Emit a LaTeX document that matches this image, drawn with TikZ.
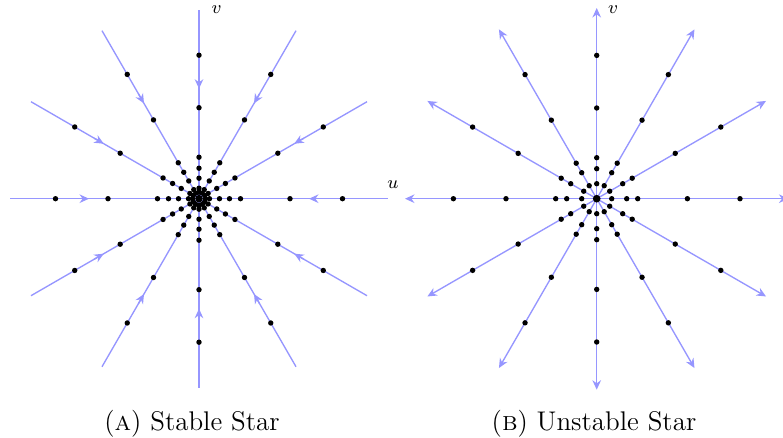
\documentclass[tikz,border=0pt]{standalone}
\usetikzlibrary{arrows.meta}

\definecolor{raycol}{RGB}{150,150,255}

\tikzset{
  ray/.style={raycol, line width=0.6pt},
  raytip/.style={ray, -{Stealth[length=4.2pt,width=3.8pt]}},
  axtip/.style={ray, {Stealth[length=4.2pt,width=3.8pt]}-{Stealth[length=4.2pt,width=3.8pt]}},
  axlabel/.style={font=\footnotesize, inner sep=0pt},
}

\begin{document}
\begin{tikzpicture}[x=0.4444pt, y=0.4444pt]
  \useasboundingbox (0,0) rectangle (783,437);
  \clip (0,0) rectangle (783,437);

  % --- (A) Stable Star ---
  \begin{scope}[shift={(199,238.3)}]
    % Achsen
    \draw[ray] (-189,0) -- (189,0);
    \draw[ray] (0,-189) -- (0,189);
    \node[axlabel] (uA) at (194,13.7) {$u$};
    \node[axlabel] (vA) at (17.7,189.4) {$v$};
    % Strahlen
    \foreach \a in {30,60,120,150,210,240,300,330}
      \draw[ray] (0,0) -- (\a:194);
    % Pfeile zum Ursprung
    \foreach \a in {0,30,...,330}
      \draw[raytip] (\a:121) -- (\a:110);
    % Punkte
    \foreach \a in {0,30,...,330}
      \foreach \r in {6.5,10.5,20.5,30.5,41.5,91,143.5}
        \fill (\a:\r) circle (1.2pt);
    \fill (0,0) circle (1.7pt);
  \end{scope}

  % --- (B) Unstable Star ---
  \begin{scope}[shift={(596.7,238.3)}]
    % Achsen
    \draw[axtip] (-191.7,0) -- (191.7,0);
    \draw[axtip] (0,-191) -- (0,190.7);
    \node[axlabel] (vB) at (16.3,188.7) {$v$};
    % Strahlen nach außen
    \foreach \a in {30,60,120,150,210,240,300,330}
      \draw[raytip] (0,0) -- (\a:195.5);
    % Punkte
    \foreach \a in {0,30,...,330}
      \foreach \r in {15,30,41,90.7,143.3}
        \fill (\a:\r) circle (1.2pt);
    \fill (0,0) circle (1.7pt);
  \end{scope}

  % --- Unterschriften ---
  \node[anchor=base, font=\large] (capA) at (192,7) {(\textsc{a}) Stable Star};
  \node[anchor=base, font=\large] (capB) at (594,7) {(\textsc{b}) Unstable Star};

\end{tikzpicture}
\end{document}
